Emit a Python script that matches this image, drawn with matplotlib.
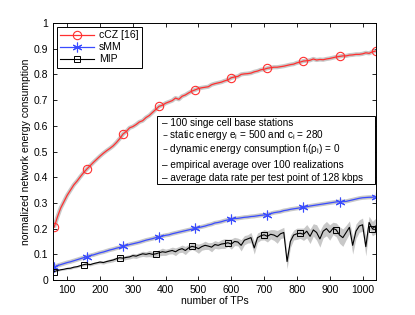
import numpy as np
import matplotlib.pyplot as plt
from matplotlib.patches import Rectangle

plt.rcParams['font.family'] = ['Liberation Sans', 'DejaVu Sans']

# number of TPs (60 ... 1040, step 10)
tps = np.arange(60, 1050, 10)

ccz = [0.205, 0.245, 0.280, 0.305, 0.330, 0.350, 0.370, 0.385, 0.402, 0.418,
       0.432, 0.445, 0.458, 0.470, 0.482, 0.493, 0.503, 0.512, 0.522, 0.535,
       0.550, 0.568, 0.578, 0.592, 0.597, 0.605, 0.615, 0.620, 0.632, 0.640,
       0.652, 0.664, 0.676, 0.680, 0.688, 0.693, 0.698, 0.708, 0.703, 0.715,
       0.720, 0.728, 0.735, 0.740, 0.745, 0.748, 0.750, 0.752, 0.760, 0.764,
       0.767, 0.770, 0.775, 0.779, 0.787, 0.790, 0.792, 0.800, 0.802, 0.803,
       0.805, 0.810, 0.813, 0.818, 0.820, 0.824, 0.826, 0.828, 0.828, 0.830,
       0.832, 0.835, 0.838, 0.840, 0.845, 0.848, 0.852, 0.853, 0.855, 0.860,
       0.856, 0.858, 0.857, 0.860, 0.862, 0.865, 0.868, 0.870, 0.872, 0.872,
       0.875, 0.876, 0.878, 0.878, 0.880, 0.884, 0.882, 0.888, 0.891]

smm = [0.050, 0.056, 0.060, 0.064, 0.068, 0.071, 0.075, 0.079, 0.083, 0.087,
       0.091, 0.095, 0.098, 0.102, 0.106, 0.109, 0.113, 0.117, 0.120, 0.124,
       0.127, 0.131, 0.134, 0.138, 0.141, 0.144, 0.147, 0.151, 0.155, 0.158,
       0.161, 0.165, 0.168, 0.171, 0.174, 0.176, 0.180, 0.183, 0.186, 0.189,
       0.192, 0.195, 0.198, 0.201, 0.204, 0.207, 0.210, 0.214, 0.217, 0.222,
       0.224, 0.227, 0.231, 0.234, 0.237, 0.239, 0.240, 0.242, 0.244, 0.245,
       0.247, 0.248, 0.250, 0.252, 0.253, 0.254, 0.258, 0.262, 0.264, 0.266,
       0.270, 0.272, 0.275, 0.277, 0.279, 0.281, 0.283, 0.285, 0.288, 0.290,
       0.292, 0.294, 0.296, 0.298, 0.300, 0.302, 0.304, 0.305, 0.305, 0.306,
       0.309, 0.312, 0.315, 0.318, 0.320, 0.321, 0.322, 0.322, 0.324]

mip = [0.033, 0.037, 0.040, 0.042, 0.045, 0.046, 0.050, 0.052, 0.056, 0.060,
       0.062, 0.060, 0.064, 0.067, 0.070, 0.068, 0.072, 0.075, 0.078, 0.083,
       0.087, 0.085, 0.088, 0.090, 0.095, 0.093, 0.098, 0.102, 0.100, 0.103,
       0.100, 0.102, 0.106, 0.110, 0.108, 0.112, 0.115, 0.110, 0.118, 0.122,
       0.115, 0.125, 0.131, 0.128, 0.122, 0.130, 0.135, 0.132, 0.128, 0.138,
       0.135, 0.140, 0.142, 0.145, 0.140, 0.150, 0.148, 0.135, 0.155, 0.160,
       0.165, 0.125, 0.165, 0.172, 0.176, 0.170, 0.178, 0.175, 0.168, 0.180,
       0.185, 0.072, 0.150, 0.175, 0.180, 0.182, 0.178, 0.190, 0.170, 0.195,
       0.185, 0.160, 0.190, 0.200, 0.185, 0.201, 0.195, 0.175, 0.165, 0.185,
       0.205, 0.135, 0.190, 0.210, 0.215, 0.130, 0.224, 0.200, 0.210]

# half width of the grey spread around MIP
mip_spread = [0.003, 0.003, 0.003, 0.003, 0.004, 0.004, 0.004, 0.004, 0.004, 0.005,
              0.005, 0.005, 0.005, 0.005, 0.006, 0.006, 0.006, 0.007, 0.007, 0.007,
              0.007, 0.008, 0.008, 0.008, 0.009, 0.009, 0.009, 0.010, 0.010, 0.012,
              0.011, 0.010, 0.012, 0.014, 0.012, 0.011, 0.013, 0.015, 0.012, 0.014,
              0.016, 0.013, 0.012, 0.015, 0.018, 0.014, 0.016, 0.013, 0.018, 0.015,
              0.014, 0.017, 0.019, 0.014, 0.020, 0.016, 0.015, 0.022, 0.018, 0.016,
              0.020, 0.024, 0.018, 0.017, 0.020, 0.022, 0.018, 0.021, 0.025, 0.019,
              0.020, 0.028, 0.024, 0.019, 0.022, 0.020, 0.024, 0.026, 0.028, 0.024,
              0.030, 0.032, 0.026, 0.028, 0.030, 0.024, 0.027, 0.032, 0.034, 0.028,
              0.025, 0.034, 0.028, 0.024, 0.026, 0.036, 0.024, 0.028, 0.030]

ccz_marks = [0, 10, 21, 32, 43, 54, 65, 76, 87, 98]
mip_marks = [0, 9, 20, 31, 42, 53, 64, 75, 86, 97]

notes = ['– 100 singe cell base stations',
         '– static energy e$_\\mathregular{i}$ = 500 and c$_\\mathregular{i}$ = 280',
         '– dynamic energy consumption f$_\\mathregular{i}$(ρ$_\\mathregular{i}$) = 0',
         '– empirical average over 100 realizations',
         '– average data rate per test point of 128 kbps']

fig = plt.figure(figsize=(4.15, 3.15), dpi=100)
ax = fig.add_axes([0.128, 0.111, 0.778, 0.816])

grey = '#c8c8c8'
mip = np.array(mip)
sp = np.array(mip_spread)
ax.fill_between(tps, mip - sp, mip + sp, color=grey, lw=0)
ax.plot(tps, ccz, color=grey, lw=3, solid_capstyle='butt')
ax.plot(tps, smm, color=grey, lw=3, solid_capstyle='butt')

ax.plot(tps, ccz, color='#ff3030', lw=0.9, marker='o', ms=6, mfc='none',
        mew=0.8, markevery=ccz_marks, label='cCZ [16]')
ax.plot(tps, smm, color='#3a4cff', lw=0.9, marker=(6, 2, 0), ms=7,
        mew=0.8, markevery=ccz_marks, label='sMM')
ax.plot(tps, mip, color='black', lw=0.8, marker='s', ms=5, mfc='none',
        mew=0.7, markevery=mip_marks, label='MIP')

ax.set_xlim(57, 1041)
ax.set_ylim(0, 1)
ax.set_xticks(np.arange(100, 1001, 100))
ax.set_yticks(np.arange(0, 1.01, 0.1))
ax.set_yticklabels(['0'] + ['%.1f' % v for v in np.arange(0.1, 0.95, 0.1)] + ['1'])
ax.tick_params(direction='in', top=True, right=True, labelsize=7.5, length=3, width=0.6)
for s in ax.spines.values():
    s.set_linewidth(0.7)
ax.set_xlabel('number of TPs', fontsize=7.5, labelpad=1)
ax.set_ylabel('normalized network energy consumption', fontsize=7.5, labelpad=2)

leg = ax.legend(loc='upper left', fontsize=7.5, handlelength=3.2, borderaxespad=0.4,
                fancybox=False, edgecolor='black', framealpha=1,
                borderpad=0.3, labelspacing=0.2, handletextpad=0.5)
leg.get_frame().set_linewidth(0.7)

# annotation box
ax.add_patch(Rectangle((0.322, 0.374), 0.676, 0.264, transform=ax.transAxes,
                       facecolor='white', edgecolor='black', lw=0.7, zorder=4))
ys = [0.61, 0.564, 0.51, 0.447, 0.397]
for y, t in zip(ys, notes):
    ax.text(0.338, y, t, transform=ax.transAxes, fontsize=7.2, va='center',
            zorder=5)

fig.savefig('out.png', dpi=100)
